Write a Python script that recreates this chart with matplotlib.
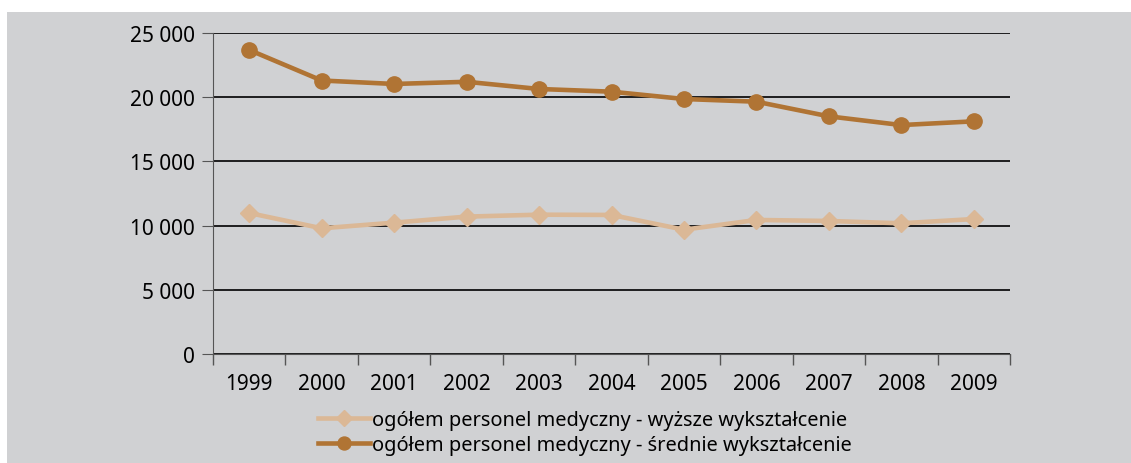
import matplotlib.pyplot as plt
from matplotlib.patches import Rectangle
from matplotlib.ticker import FuncFormatter, MultipleLocator

plt.rcParams['font.family'] = ['Noto Sans', 'DejaVu Sans']

years = ['1999', '2000', '2001', '2002', '2003', '2004', '2005', '2006', '2007', '2008', '2009']
wyzsze = [10980, 9790, 10230, 10700, 10850, 10830, 9680, 10440, 10360, 10180, 10510]
srednie = [23680, 21300, 21030, 21200, 20640, 20430, 19860, 19650, 18510, 17830, 18120]
labels = ['ogółem personel medyczny - wyższe wykształcenie',
          'ogółem personel medyczny - średnie wykształcenie']

bg = '#d0d1d3'
fig = plt.figure(figsize=(11.31, 4.64), dpi=100, facecolor='white')
##gray panel with white margin at top and left
fig.add_artist(Rectangle((7 / 1131, 0), 1, 1 - 13 / 464, transform=fig.transFigure,
                         facecolor=bg, edgecolor='none', zorder=0))

ax = fig.add_axes([213 / 1131, 1 - 355 / 464, 797 / 1131, 321 / 464])
ax.set_facecolor(bg)

x = list(range(len(years)))
ax.plot(x, wyzsze, color='#dbb896', lw=3.3, marker='D', ms=9, label=labels[0], zorder=3)
ax.plot(x, srednie, color='#b07434', lw=3.3, marker='o', ms=11, label=labels[1], zorder=4)

ax.set_ylim(0, 25000)
ax.set_xlim(-0.5, len(years) - 0.5)
ax.yaxis.set_major_locator(MultipleLocator(5000))
ax.yaxis.set_major_formatter(FuncFormatter(lambda v, p: '{:,}'.format(int(v)).replace(',', ' ')))
ax.grid(axis='y', color='black', lw=1.2)
ax.set_axisbelow(True)

ax.set_xticks([i - 0.5 for i in range(len(years) + 1)])
ax.set_xticklabels([])
ax.set_xticks(x, minor=True)
ax.set_xticklabels(years, minor=True)
ax.tick_params(axis='x', which='major', length=8, color='#555555', width=1)
ax.tick_params(axis='x', which='minor', length=0, labelsize=15, pad=14)
ax.tick_params(axis='y', length=8, color='#555555', labelsize=15, pad=5)

for s in ['top', 'right']:
    ax.spines[s].set_visible(False)
ax.spines['left'].set_color('#555555')
ax.spines['bottom'].set_color('#555555')

fig.legend(loc='upper center', bbox_to_anchor=(585 / 1131, 1 - 403 / 464), ncol=1,
           frameon=False, fontsize=14.4, handlelength=2.6, handletextpad=0.1,
           labelspacing=0.25, borderaxespad=0, markerscale=0.85)

fig.savefig('out.png', dpi=100, facecolor='white')
